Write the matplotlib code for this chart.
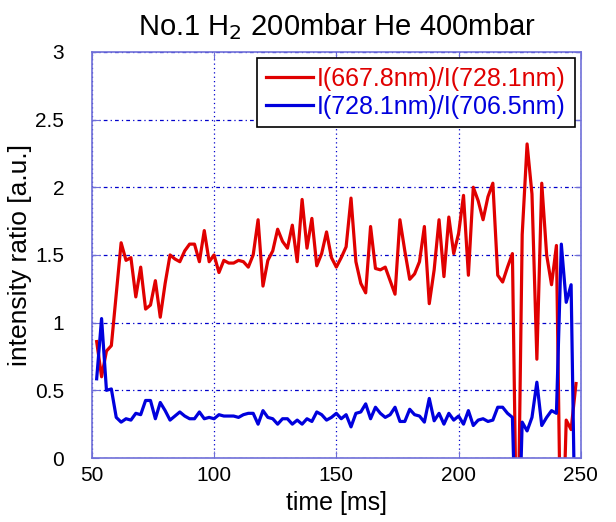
import matplotlib
matplotlib.use("Agg")
import matplotlib.pyplot as plt

# time axis [ms]
time = [52, 54, 56, 58, 60, 62, 64, 66, 68, 70, 72, 74, 76, 78, 80, 82, 84, 86, 88, 90,
        92, 94, 96, 98, 100, 102, 104, 106, 108, 110, 112, 114, 116, 118, 120, 122, 124, 126, 128, 130,
        132, 134, 136, 138, 140, 142, 144, 146, 148, 150, 152, 154, 156, 158, 160, 162, 164, 166, 168, 170,
        172, 174, 176, 178, 180, 182, 184, 186, 188, 190, 192, 194, 196, 198, 200, 202, 204, 206, 208, 210,
        212, 214, 216, 218, 220, 222, 224, 226, 228, 230, 232, 234, 236, 238, 240, 242, 244, 246, 248]

# I(667.8nm)/I(728.1nm)
ratio_red = [0.86, 0.60, 0.79, 0.83, 1.21, 1.59, 1.46, 1.48, 1.19, 1.41, 1.10, 1.13, 1.31, 1.04, 1.29, 1.50, 1.47, 1.45, 1.53, 1.58,
             1.58, 1.45, 1.68, 1.45, 1.50, 1.37, 1.46, 1.44, 1.44, 1.46, 1.45, 1.41, 1.50, 1.76, 1.27, 1.46, 1.53, 1.69, 1.60, 1.55,
             1.72, 1.45, 1.91, 1.55, 1.77, 1.42, 1.51, 1.67, 1.48, 1.41, 1.48, 1.56, 1.92, 1.45, 1.29, 1.22, 1.71, 1.40, 1.39, 1.41,
             1.31, 1.21, 1.76, 1.53, 1.32, 1.36, 1.45, 1.71, 1.14, 1.39, 1.76, 1.34, 1.78, 1.51, 1.66, 1.94, 1.35, 2.00, 1.90, 1.76,
             1.93, 2.03, 1.35, 1.30, 1.41, 1.51, -1.0, 1.65, 2.32, 1.95, 0.73, 2.03, 1.50, 1.28, 1.57, -1.0, 0.28, 0.21, 0.55]

# I(728.1nm)/I(706.5nm)
ratio_blue = [0.585, 1.03, 0.50, 0.51, 0.30, 0.265, 0.29, 0.28, 0.33, 0.32, 0.425, 0.425, 0.29, 0.41, 0.35, 0.28, 0.31, 0.34, 0.31, 0.29,
              0.29, 0.34, 0.29, 0.30, 0.29, 0.32, 0.31, 0.31, 0.31, 0.30, 0.32, 0.33, 0.33, 0.25, 0.35, 0.30, 0.29, 0.25, 0.29, 0.29,
              0.25, 0.28, 0.25, 0.29, 0.27, 0.34, 0.32, 0.28, 0.30, 0.33, 0.29, 0.32, 0.23, 0.33, 0.34, 0.40, 0.29, 0.375, 0.33, 0.30,
              0.32, 0.375, 0.27, 0.27, 0.36, 0.32, 0.31, 0.265, 0.44, 0.275, 0.33, 0.25, 0.33, 0.28, 0.31, 0.25, 0.35, 0.24, 0.28, 0.29,
              0.27, 0.28, 0.375, 0.375, 0.33, 0.30, -1.0, 0.265, 0.20, 0.30, 0.56, 0.24, 0.30, 0.35, 0.33, 1.58, 1.15, 1.28, -1.0]

red = "#e00000"
blue = "#0000dd"
axcol = "#6f6fd8"

plt.rcParams["font.family"] = ["Liberation Sans", "DejaVu Sans"]

fig = plt.figure(figsize=(6.16, 5.22), dpi=100)
ax = fig.add_axes([0.149, 0.1226, 0.794, 0.778])

ax.plot(time, ratio_red, color=red, lw=2.3, label="I(667.8nm)/I(728.1nm)")
ax.plot(time, ratio_blue, color=blue, lw=2.3, label="I(728.1nm)/I(706.5nm)")

ax.set_xlim(50, 250)
ax.set_ylim(0, 3)
ax.set_xticks([50, 100, 150, 200, 250])
ax.set_yticks([0, 0.5, 1, 1.5, 2, 2.5, 3])
ax.set_yticklabels(["0", "0.5", "1", "1.5", "2", "2.5", "3"])

ax.grid(True, axis="x", color="#0000cc", linestyle=(0, (1, 2.5)), lw=0.9)
ax.grid(True, axis="y", color="#0000cc", linestyle=(0, (3, 2.5, 1, 2.5)), lw=0.9)

for sp in ax.spines.values():
    sp.set_color(axcol)
    sp.set_linewidth(1.2)
ax.tick_params(direction="in", top=True, right=True, length=5, color=axcol,
               labelsize=15)
ax.tick_params(axis="x", pad=6)
ax.tick_params(axis="y", pad=20)

ax.set_xlabel("time [ms]", fontsize=18, labelpad=4)
ax.set_ylabel("intensity ratio [a.u.]", fontsize=19, labelpad=2)
ax.set_title(r"No.1 H$_2$ 200mbar He 400mbar", fontsize=21, pad=12)

leg = ax.legend(loc="upper right", fontsize=18, fancybox=False, framealpha=1,
                edgecolor="black", handlelength=1.9, handletextpad=0.15,
                borderpad=0.35, labelspacing=0.15, borderaxespad=0.25)
leg.get_frame().set_linewidth(1.2)
for txt, c in zip(leg.get_texts(), [red, blue]):
    txt.set_color(c)

fig.savefig("out.png", dpi=100)
